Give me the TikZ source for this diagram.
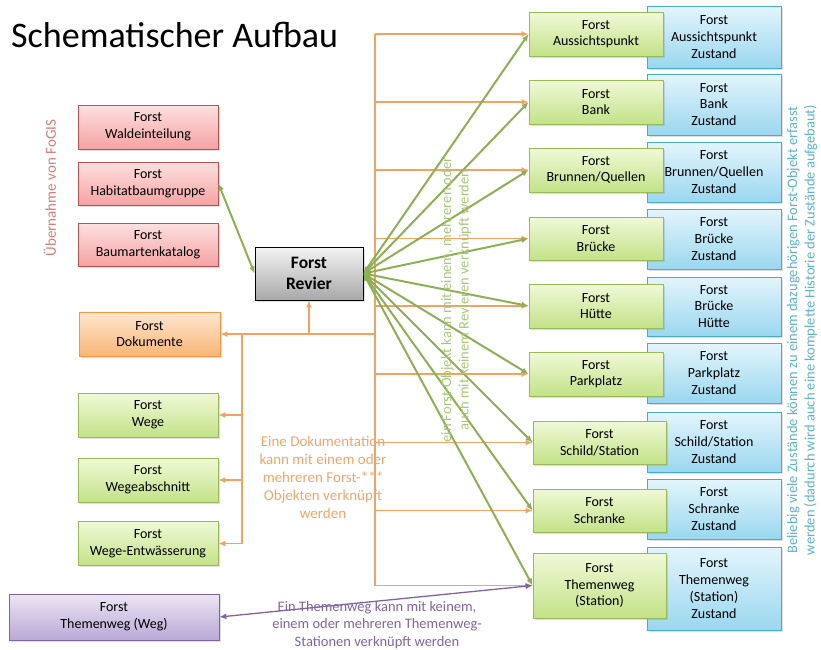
\documentclass[tikz,border=0pt]{standalone}
\usepackage{fontspec}
\setmainfont{Carlito}
\usetikzlibrary{arrows.meta,shadows}
\definecolor{redB}{HTML}{C0504D}
\definecolor{redT}{HTML}{FDE0E0}
\definecolor{redU}{HTML}{F5A3A3}
\definecolor{grnB}{HTML}{9BBB59}
\definecolor{grnT}{HTML}{F0F9D8}
\definecolor{grnU}{HTML}{C3E287}
\definecolor{bluB}{HTML}{4BACC6}
\definecolor{bluT}{HTML}{E3F5FC}
\definecolor{bluU}{HTML}{9AD7EF}
\definecolor{orgB}{HTML}{F79646}
\definecolor{orgT}{HTML}{FEE6D0}
\definecolor{orgU}{HTML}{F9B676}
\definecolor{purB}{HTML}{8064A2}
\definecolor{purT}{HTML}{ECE6F4}
\definecolor{purU}{HTML}{B9A8D6}
\definecolor{gryT}{HTML}{F4F4F4}
\definecolor{gryU}{HTML}{A8A8A8}
\definecolor{lineG}{HTML}{8DB055}
\definecolor{lineO}{HTML}{F4A261}
\definecolor{txtG}{HTML}{A8C774}
\definecolor{txtO}{HTML}{F5A468}
\definecolor{txtR}{HTML}{D77B78}
\definecolor{txtB}{HTML}{5AB4CC}
\tikzset{
  box/.style={draw, line width=0.8pt, align=center, inner sep=1pt,
    font=\fontsize{14}{16.7}\selectfont,
    drop shadow={shadow xshift=1.5pt, shadow yshift=-1.5pt, opacity=0.25}},
  redbox/.style={box, draw=redB, top color=redT, bottom color=redU, minimum width=140pt, minimum height=43pt},
  grnbox/.style={box, draw=grnB, top color=grnT, bottom color=grnU, minimum width=134pt, minimum height=44pt},
  blubox/.style={box, draw=bluB, top color=bluT, bottom color=bluU, minimum width=134pt, minimum height=60pt},
  orgbox/.style={box, draw=orgB, top color=orgT, bottom color=orgU, minimum width=141pt, minimum height=44pt},
  purbox/.style={box, draw=purB, top color=purT, bottom color=purU, minimum width=210pt, minimum height=46pt},
  grybox/.style={box, draw=black, top color=gryT, bottom color=gryU, minimum width=108pt, minimum height=53pt,
    font=\fontsize{17.5}{21}\selectfont\bfseries},
  oline/.style={draw=lineO, line width=1.6pt},
  oarr/.style={oline, -{Latex[length=7pt,width=6pt]}},
  garr/.style={draw=lineG, line width=2pt, {Latex[length=7pt,width=6pt]}-{Latex[length=7pt,width=6pt]}},
  parr/.style={draw=purB, line width=1.3pt, {Latex[length=7pt,width=6pt]}-{Latex[length=7pt,width=6pt]}},
  note/.style={align=center, font=\fontsize{14.5}{17.5}\selectfont}
}
\begin{document}
\begin{tikzpicture}[x=1pt,y=-1pt]
\useasboundingbox (0,0) rectangle (821,649);
\node[anchor=base west, font=\fontsize{36}{40}\selectfont, inner sep=0] (title) at (11,47) {Schematischer Aufbau};

% left column
\node[redbox, minimum height=44pt] (wald) at (148,127) {Forst\\Waldeinteilung};
\node[redbox] (hab) at (148,183.5) {Forst\\Habitatbaumgruppe};
\node[redbox] (baum) at (148,244.5) {Forst\\Baumartenkatalog};
\node[orgbox] (dok) at (149.5,334) {Forst\\Dokumente};
\node[grnbox, minimum width=140pt] (wege) at (148,415) {Forst\\Wege};
\node[grnbox, minimum width=140pt] (wabs) at (148,480) {Forst\\Wegeabschnitt};
\node[grnbox, minimum width=140pt] (went) at (148,543.5) {Forst\\Wege-Entwässerung};
\node[purbox] (tweg) at (114,617) {Forst\\Themenweg (Weg)};
\node[grybox] (rev) at (309,273.5) {Forst\\Revier};

% blue state boxes
\node[blubox, minimum height=62pt] (zaus) at (714,37) {Forst\\Aussichtspunkt\\Zustand};
\node[blubox, minimum height=61pt] (zbank) at (714,104.5) {Forst\\Bank\\Zustand};
\node[blubox] (zbrun) at (714,172) {Forst\\Brunnen/Quellen\\Zustand};
\node[blubox] (zbru) at (714,239) {Forst\\Brücke\\Zustand};
\node[blubox, minimum height=59pt] (zhue) at (714,306.5) {Forst\\Brücke\\Hütte};
\node[blubox] (zpark) at (714,373) {Forst\\Parkplatz\\Zustand};
\node[blubox] (zschi) at (714,442) {Forst\\Schild/Station\\Zustand};
\node[blubox] (zschr) at (714,509) {Forst\\Schranke\\Zustand};
\node[blubox, minimum height=83pt] (zthst) at (714,588.5) {Forst\\Themenweg\\(Station)\\Zustand};

% green object boxes
\node[grnbox] (aus) at (596,34) {Forst\\Aussichtspunkt};
\node[grnbox] (bank) at (596,102) {Forst\\Bank};
\node[grnbox] (brun) at (596,170) {Forst\\Brunnen/Quellen};
\node[grnbox, minimum height=43pt] (bru) at (596,238.5) {Forst\\Brücke};
\node[grnbox] (hue) at (596,306) {Forst\\Hütte};
\node[grnbox] (park) at (596,374) {Forst\\Parkplatz};
\node[grnbox, minimum width=133pt, minimum height=43pt] (schi) at (599.5,442.5) {Forst\\Schild/Station};
\node[grnbox, minimum width=133pt, minimum height=43pt] (schr) at (599.5,510.5) {Forst\\Schranke};
\node[grnbox, minimum width=133pt, minimum height=65pt] (thst) at (599.5,585.5) {Forst\\Themenweg\\(Station)};

% orange documentation tree
\coordinate (tx) at (375,0);
\coordinate (lx) at (242,0);
\draw[oline] (tx |- aus.west) -- (tx |- thst.west);
\foreach \t in {aus,bank,brun,bru,hue,park,schi,schr,thst}
  \draw[oarr] (tx |- \t.west) -- (\t.west);
\draw[oarr] (tx |- dok.east) -- (dok.east);
\draw[oarr] (rev.south |- dok.east) -- (rev.south);
\draw[oline] (lx |- dok.east) -- (lx |- went.east);
\foreach \t in {wege,wabs,went}
  \draw[oarr] (lx |- \t.east) -- (\t.east);

% green Revier links
\draw[garr] (hab.east) -- (rev.west);
\foreach \t in {aus,bank,brun,bru,hue,park,schi,schr,thst}
  \draw[garr] (rev.east) -- (\t.west);

% purple link
\draw[parr] (tweg.east) -- (thst.west);

% notes
\node[note, text=txtR, rotate=90, font=\fontsize{15}{18}\selectfont] (n1) at (50,188) {Übernahme von FoGIS};
\node[note, text=txtG, rotate=90] (n2) at (456,300) {ein Forst-Objekt kann mit einem, mehreren oder\\auch mit keinem Revieren verknüpft werden};
\node[note, text=txtB, rotate=90] (n3) at (802,330) {Beliebig viele Zustände können zu einem dazugehörigen Forst-Objekt erfasst\\werden (dadurch wird auch eine komplette Historie der Zustände aufgebaut)};
\node[note, text=txtO, font=\fontsize{15}{18}\selectfont] (n4) at (323,477) {Eine Dokumentation\\kann mit einem oder\\mehreren Forst-***\\Objekten verknüpft\\werden};
\node[note, text=purB] (n5) at (377,625) {Ein Themenweg kann mit keinem,\\einem oder mehreren Themenweg-\\Stationen verknüpft werden};
\end{tikzpicture}
\end{document}
